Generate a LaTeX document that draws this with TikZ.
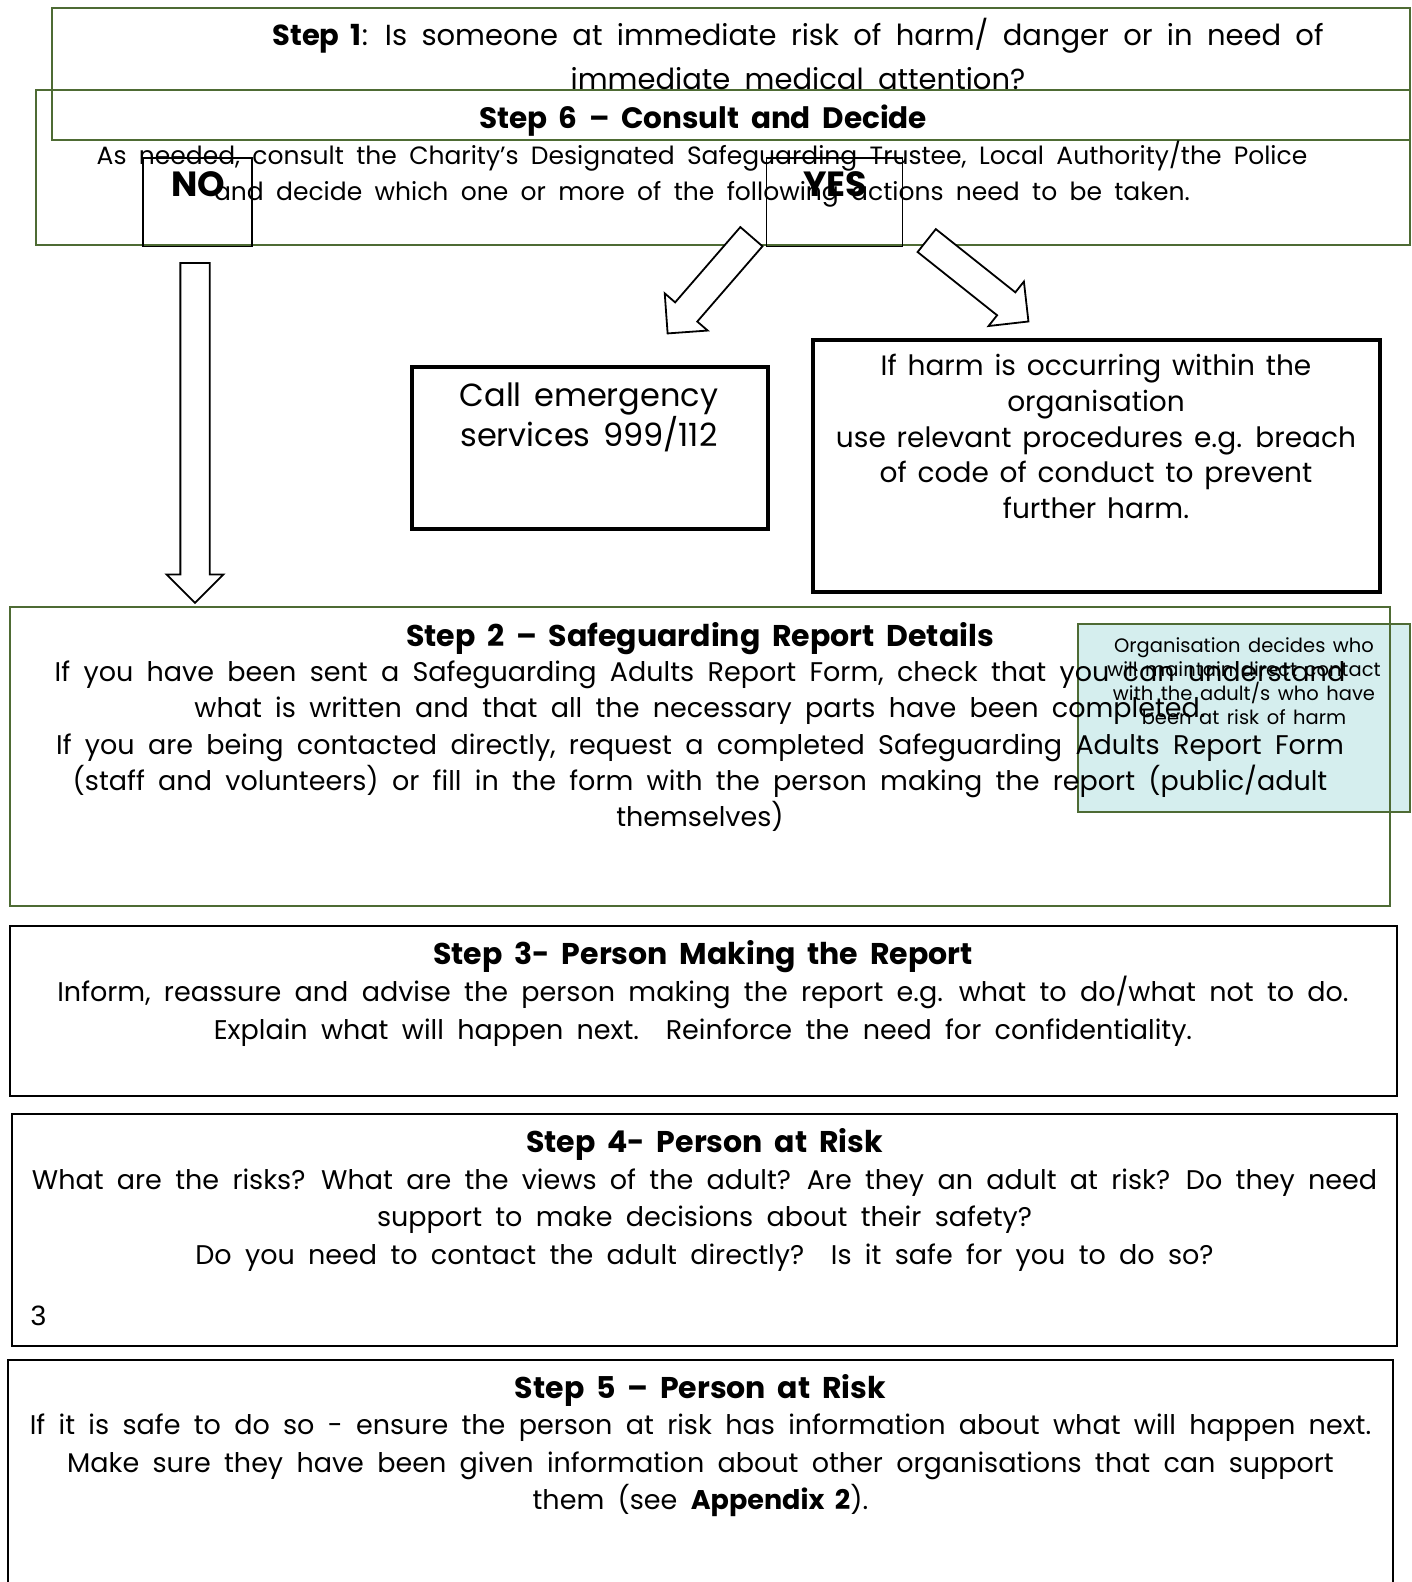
\documentclass[tikz,border=0pt]{standalone}
\usepackage{fontspec}
\setmainfont{Poppins}[WordSpace=1.85]
\newfontfamily\plainpoppins{Poppins}
\newfontfamily\midpoppins{Poppins}[WordSpace=1.45]
\newfontfamily\pagenumfont{Liberation Sans}
\usetikzlibrary{shapes.arrows,positioning}
\definecolor{boxgreen}{HTML}{4E6B34}
\definecolor{tealfill}{HTML}{D5EEEE}

\begin{document}
\begin{tikzpicture}[x=1pt, y=-1pt,
    greenbox/.style={draw=boxgreen, line width=2pt, inner sep=0pt},
    blackbox/.style={draw=black, line width=2pt, inner sep=0pt},
    heavybox/.style={draw=black, line width=4pt, inner sep=0pt},
    thinbox/.style={draw=black, line width=1.5pt, inner sep=0pt},
    txt/.style={anchor=north, align=center, inner sep=0pt},
    hollow/.style={single arrow, draw=black, line width=1.8pt, fill=white,
                   inner xsep=0pt, inner ysep=13.75pt, anchor=tail,
                   minimum width=55pt, single arrow head extend=13.75pt},
    every node/.style={font=\fontsize{27}{38}\selectfont}
  ]
    \useasboundingbox (0,0) rectangle (1412,1582);

    % Step 1 and Step 6
    \node[greenbox, minimum width=1358pt, minimum height=132pt] (step1) at (731,74) {};
    \node[greenbox, minimum width=1374pt, minimum height=155.5pt] (step6) at (723,167.25) {};
    \node[txt, font=\fontsize{29}{43.5}\selectfont] (step1txt) at (798,18)
      {\textbf{Step 1}: Is someone at immediate risk of harm/ danger or in need of\\
       immediate medical attention?};
    \node[txt, font=\bfseries\fontsize{29.5}{36}\selectfont] (step6title) at (703,105)
      {Step 6 – Consult and Decide};
    \node[txt, font=\fontsize{25}{35.6}\selectfont] (step6txt) at (702,141)
      {As needed, consult the Charity’s Designated Safeguarding Trustee, Local Authority/the Police\\
       and decide which one or more of the following actions need to be taken.};

    % Yes / No
    \node[thinbox, minimum width=109pt, minimum height=88.5pt] (nobox) at (197.5,202.25) {};
    \node[thinbox, minimum width=136.2pt, minimum height=88.5pt] (yesbox) at (834.6,202.25) {};
    \node[font=\bfseries\fontsize{35}{40}\selectfont, inner sep=0pt] (notxt) at (198,184.6) {NO};
    \node[font=\bfseries\fontsize{35}{40}\selectfont, inner sep=0pt] (yestxt) at (835,184.6) {YES};

    % Block arrows
    \node[hollow, minimum height=340pt, rotate=-90] (noarrow) at (195,262) {};
    \node[hollow, minimum height=128pt, rotate=229.1] (leftarrow) at (752,236) {};
    \node[hollow, minimum height=130pt, rotate=-38.5] (rightarrow) at (926,240) {};

    % Actions
    \node[heavybox, minimum width=356pt, minimum height=161.5pt] (emergency) at (589.5,447.75) {};
    \node[txt, font=\plainpoppins\fontsize{32}{36.5}\selectfont] (emergencytxt) at (589,383)
      {Call emergency\\services 999/112};
    \node[heavybox, minimum width=567pt, minimum height=252pt] (harm) at (1096.5,466) {};
    \node[txt, font=\midpoppins\fontsize{28}{35.8}\selectfont] (harmtxt) at (1096,354)
      {If harm is occurring within the\\organisation\\
       use relevant procedures e.g. breach\\of code of conduct to prevent\\further harm.};

    % Step 2 with side note
    \node[greenbox, fill=tealfill, minimum width=332pt, minimum height=188pt] (contact) at (1244,718) {};
    \node[greenbox, minimum width=1380pt, minimum height=299pt] (step2) at (700,756.5) {};
    \node[txt, font=\fontsize{27}{36.3}\selectfont] (step2txt) at (700,622.5)
      {{\bfseries\fontsize{30}{36.3}\selectfont Step 2 – Safeguarding Report Details}\\[-1.5pt]
       If you have been sent a Safeguarding Adults Report Form, check that you can understand\\
       what is written and that all the necessary parts have been completed.\\
       If you are being contacted directly, request a completed Safeguarding Adults Report Form\\
       (staff and volunteers) or fill in the form with the person making the report (public/adult\\
       themselves)};
    \node[txt, font=\midpoppins\fontsize{19.5}{24.2}\selectfont] (contacttxt) at (1244,637)
      {Organisation decides who\\will maintain direct contact\\
       with the adult/s who have\\been at risk of harm};

    % Steps 3 to 5
    \node[blackbox, minimum width=1387pt, minimum height=169.5pt] (step3) at (703.5,1010.75) {};
    \node[txt, font=\fontsize{27}{38.2}\selectfont] (step3txt) at (703,940.5)
      {{\bfseries\fontsize{30}{38.2}\selectfont Step 3- Person Making the Report}\\[-1.5pt]
       Inform, reassure and advise the person making the report e.g. what to do/what not to do.\\
       Explain what will happen next.\ \ Reinforce the need for confidentiality.};
    \node[blackbox, minimum width=1385pt, minimum height=232pt] (step4) at (704.5,1229.5) {};
    \node[txt, font=\fontsize{27}{37.8}\selectfont] (step4txt) at (704.5,1128.5)
      {{\bfseries\fontsize{30}{37.8}\selectfont Step 4- Person at Risk}\\[-1.5pt]
       What are the risks? What are the views of the adult? Are they an adult at risk? Do they need\\
       support to make decisions about their safety?\\
       Do you need to contact the adult directly?\ \ Is it safe for you to do so?};
    \node[font=\pagenumfont\fontsize{28}{32}\selectfont, inner sep=0pt] (pagenum) at (38.3,1316) {3};
    \node[blackbox, minimum width=1385pt, minimum height=240pt] (step5) at (700.5,1479.8) {};
    \node[txt, font=\fontsize{27}{37.7}\selectfont] (step5txt) at (700.5,1374)
      {{\bfseries\fontsize{30}{37.7}\selectfont Step 5 – Person at Risk}\\[-1.5pt]
       If it is safe to do so - ensure the person at risk has information about what will happen next.\\
       Make sure they have been given information about other organisations that can support\\
       them (see \textbf{Appendix 2}).};
  \end{tikzpicture}
\end{document}
